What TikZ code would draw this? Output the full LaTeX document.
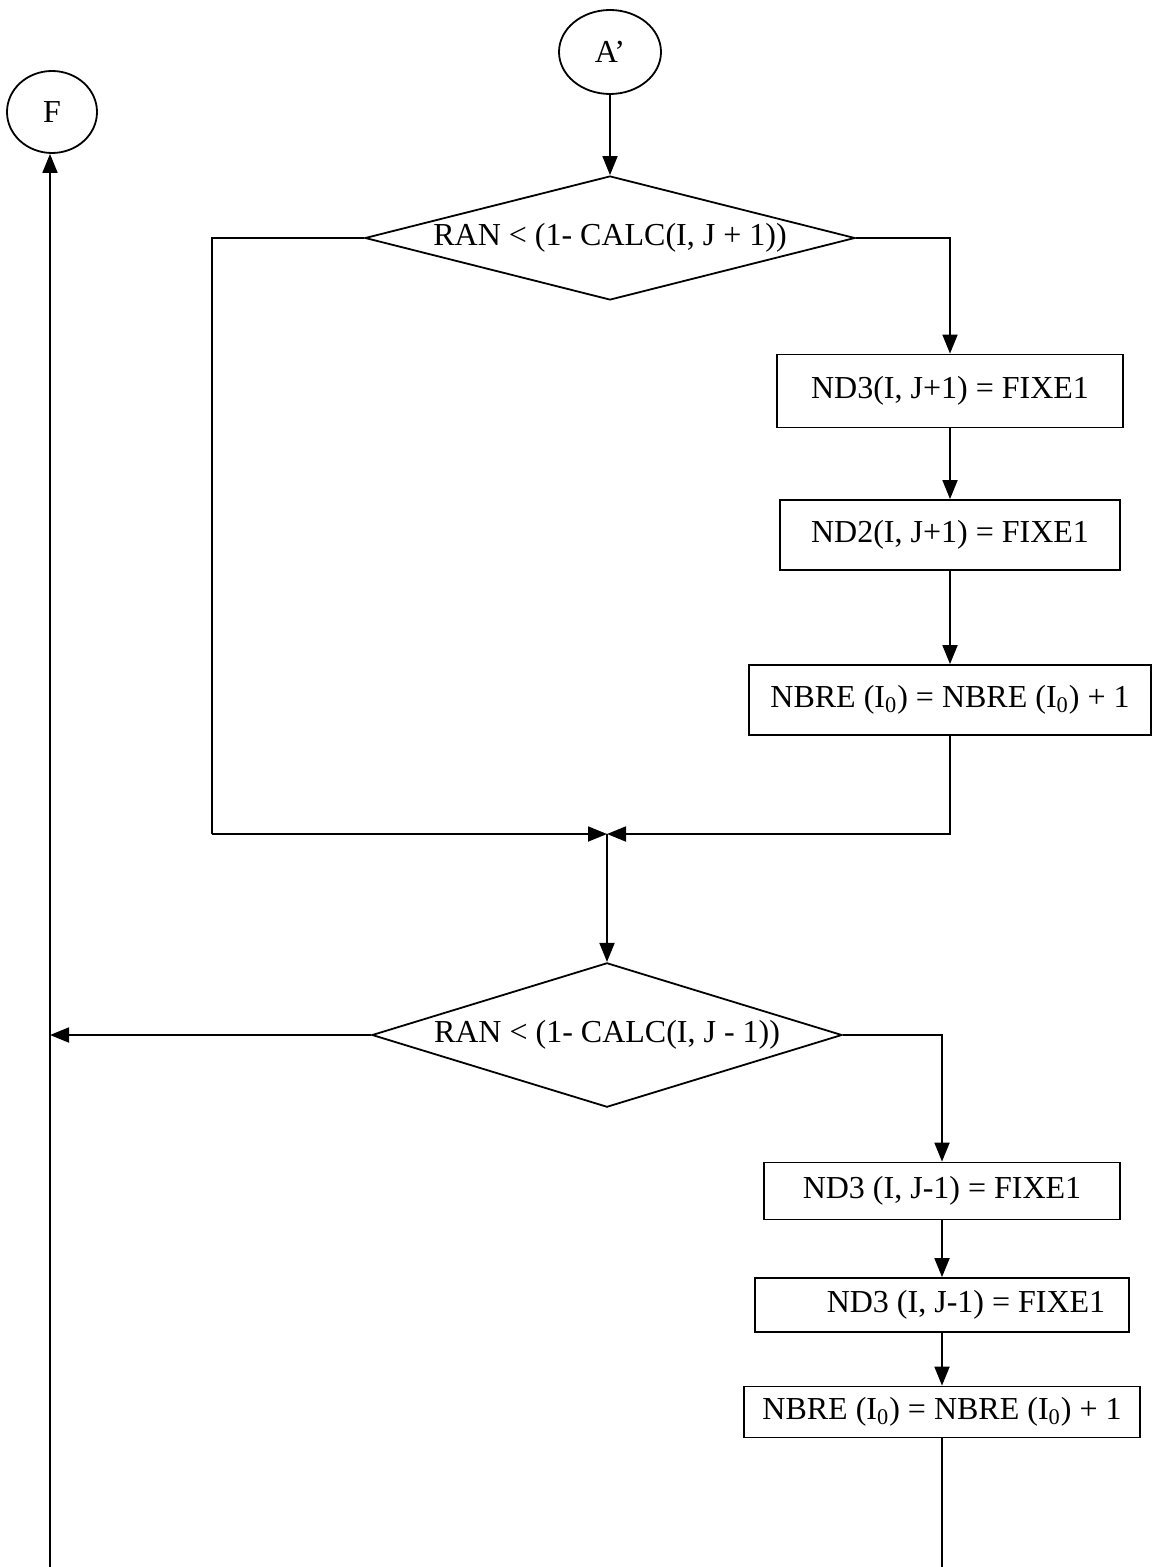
\documentclass[tikz,border=0pt]{standalone}
\usepackage{fontspec}
\setmainfont{Liberation Serif}
\usetikzlibrary{shapes.geometric,arrows.meta}
\begin{document}
\begin{tikzpicture}[x=0.5pt,y=-0.5pt,font=\fontsize{16}{19}\selectfont,line width=0.9pt,>={Triangle[length=9.5pt,width=7.5pt]}] % блок-схема
\tikzstyle{term} = [ellipse, draw, minimum width=51pt, minimum height=42pt, inner sep=0pt] % connector circle
\tikzstyle{test} = [diamond, draw, inner sep=0pt] % условие
\tikzstyle{act} = [rectangle, draw, inner sep=0pt] % действие
\useasboundingbox (0,0) rectangle (1157,1567);
\node[term] (A) at (610,52) {A'};
\node[term, minimum width=45pt, minimum height=41pt] (F) at (52,112) {F};
% первое условие и его ветка
\node[test, aspect=4, minimum width=245pt, minimum height=62pt] (t1) at (610,238) {RAN < (1- CALC(I, J + 1))};
\node[act, minimum width=173pt, minimum height=36.5pt] (b1) at (950,391) {ND3(I, J+1) = FIXE1};
\node[act, minimum width=170pt, minimum height=35pt] (b2) at (950,535) {ND2(I, J+1) = FIXE1};
\node[act, minimum width=201pt, minimum height=35pt] (b3) at (950,700) {NBRE (I\textsubscript{0}) = NBRE (I\textsubscript{0}) + 1};
\coordinate (j) at (607,834); % слияние веток
\coordinate (lc) at (212,834);
% второе условие
\node[test, aspect=3, minimum width=235pt, minimum height=72pt] (t2) at (607,1035) {RAN < (1- CALC(I, J - 1))};
\node[act, minimum width=178pt, minimum height=28.5pt] (b4) at (942,1191) {ND3 (I, J-1) = FIXE1};
\node[act, minimum width=187pt, minimum height=27pt] (b5) at (942,1305) {\hspace{1.5em}ND3 (I, J-1) = FIXE1};
\node[act, minimum width=198pt, minimum height=25.5pt] (b6) at (942,1412) {NBRE (I\textsubscript{0}) = NBRE (I\textsubscript{0}) + 1};
\coordinate (fb) at (50,1567); % линии уходят за край
\coordinate (rb) at (942,1567);
% соединения
\draw[->] (A) -- (t1.north);
\draw[->] (t1.east) -| (b1.north);
\draw[->] (b1) -- (b2);
\draw[->] (b2) -- (b3);
\draw (t1.west) -| (lc);
\draw[->] (lc) -- (j);
\draw[->] (b3.south) |- (j);
\draw[->] (j) -- (t2.north);
\draw[->] (t2.east) -| (b4.north);
\draw[->] (b4) -- (b5);
\draw[->] (b5) -- (b6);
\draw (b6) -- (rb);
\draw[->] (t2.west) -- (t2.west -| fb);
\draw[->] (fb) -- (fb |- F.south);
\end{tikzpicture}
\end{document}
